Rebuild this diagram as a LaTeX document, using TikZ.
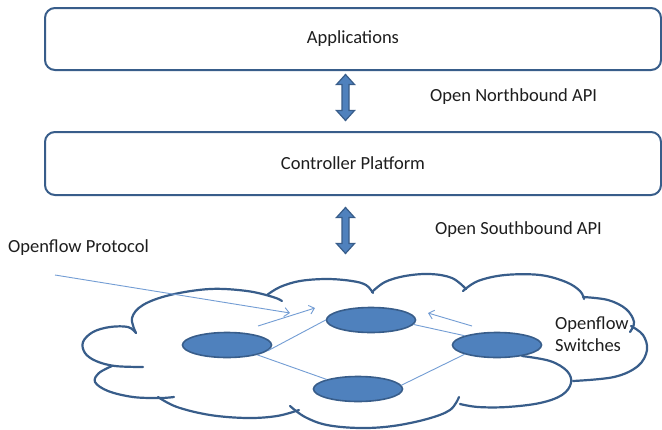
\documentclass[tikz,border=0pt]{standalone}
\usepackage{fontspec}
\setmainfont{Carlito}
\usetikzlibrary{arrows.meta,shapes.geometric}

\definecolor{edgeblue}{RGB}{56,93,138}
\definecolor{fillblue}{RGB}{79,129,189}
\definecolor{linkblue}{RGB}{115,157,212}
\definecolor{txt}{RGB}{30,30,30}

\tikzset{
  layerbox/.style={draw=edgeblue, line width=2pt, rounded corners=10pt,
    minimum width=616pt, minimum height=62pt, inner sep=0pt,
    font=\fontsize{18.5}{21}\selectfont, text=txt},
  switchnode/.style={ellipse, draw=edgeblue, line width=1.6pt, fill=fillblue,
    minimum width=89pt, minimum height=25pt, inner sep=0pt},
  lobe/.style={draw=edgeblue, line width=2.2pt, line cap=round, line join=round},
  link/.style={draw=linkblue, line width=0.9pt},
  flowarrow/.style={draw=linkblue, line width=0.9pt,
    -{Straight Barb[length=5pt,width=9pt,line width=0.9pt]}},
  label/.style={font=\fontsize{18.5}{21}\selectfont, text=txt, inner sep=0pt},
  arrowfill/.style={draw=edgeblue, line width=1.2pt, fill=fillblue, line join=miter},
  pics/updown/.style={code={
    \path[arrowfill] (0,-23) -- (9,-13) -- (3.5,-13) -- (3.5,13) -- (9,13)
      -- (0,23) -- (-9,13) -- (-3.5,13) -- (-3.5,-13) -- (-9,-13) -- cycle;
  }}
}

\begin{document}
\begin{tikzpicture}[x=1pt, y=-1pt]
\useasboundingbox[fill=white] (0,0) rectangle (662,429);

% layers
\node[layerbox] (apps) at (353,39) {Applications};
\node[layerbox, minimum height=63pt] (ctrl) at (353,163.5) {Controller Platform};

% API arrows between the layers
\pic at (345.5,97.5) {updown};
\pic at (345.5,230.5) {updown};

\node[label, anchor=west] (north) at (430,97) {Open Northbound API};
\node[label, anchor=west] (south) at (435,230) {Open Southbound API};
\node[label, anchor=west] (proto) at (8,248) {Openflow Protocol};

% the network cloud, one arc per lobe
\draw[lobe] plot[smooth, tension=0.6] coordinates
  {(136,333) (132,318) (143,305) (170,295) (210,289) (247,291) (273,297) (282,301)};
\draw[lobe] plot[smooth, tension=0.6] coordinates
  {(267,295) (280,287) (300,281) (327,279) (352,281) (366,285) (373,293)};
\draw[lobe] plot[smooth, tension=0.6] coordinates
  {(372,292) (385,282) (405,276) (430,274) (452,278) (466,289)};
\draw[lobe] plot[smooth, tension=0.6] coordinates
  {(463,291) (478,281) (505,275) (540,275) (566,282) (580,291) (584,299)};
\draw[lobe] plot[smooth, tension=0.6] coordinates
  {(583,297) (608,300) (626,309) (634,322) (630,332)};
\draw[lobe] plot[smooth, tension=0.6] coordinates
  {(631,326) (643,335) (647,350) (638,366) (614,377) (573,381)};
\draw[lobe] plot[smooth, tension=0.6] coordinates
  {(522,356) (550,361) (567,371) (571,383) (562,395) (540,403) (507,407) (478,407) (460,404)};
\draw[lobe] plot[smooth, tension=0.6] coordinates
  {(290,406) (305,417) (327,425) (360,428) (393,426) (427,419) (450,410) (459,397)};
\draw[lobe] plot[smooth, tension=0.6] coordinates
  {(158,397) (177,407) (210,415) (247,418) (277,416) (299,410)};
\draw[lobe] plot[smooth, tension=0.6] coordinates
  {(112,366) (99,373) (95,382) (108,391) (133,397) (160,398) (174,397)};
\draw[lobe] plot[smooth, tension=0.6] coordinates
  {(136,333) (128,327) (110,327) (93,332) (83,342) (85,353) (96,361) (115,366) (143,367)};

% switches
\node[switchnode] (sl) at (227,345) {};
\node[switchnode] (st) at (371,320) {};
\node[switchnode] (sr) at (497,345) {};
\node[switchnode] (sb) at (358,389) {};

\draw[link] (sl.-8) -- (st.west);
\draw[link] (sl.-18) -- (sb.163);
\draw[link] (st.-6) -- (sr.164);
\draw[link] (sr.-164) -- (sb.5);

% protocol messages
\coordinate (p1s) at (55,275);
\coordinate (p1e) at (290,313);
\coordinate (p2s) at (258,326);
\coordinate (p2e) at (315,308);
\coordinate (p3s) at (472,326);
\coordinate (p3e) at (428,313);
\draw[flowarrow] (p1s) -- (p1e);
\draw[flowarrow] (p2s) -- (p2e);
\draw[flowarrow] (p3s) -- (p3e);

\node[label, anchor=west, align=left, font=\fontsize{18.5}{22}\selectfont]
  (sw) at (555,334) {Openflow\\Switches};
\end{tikzpicture}
\end{document}
